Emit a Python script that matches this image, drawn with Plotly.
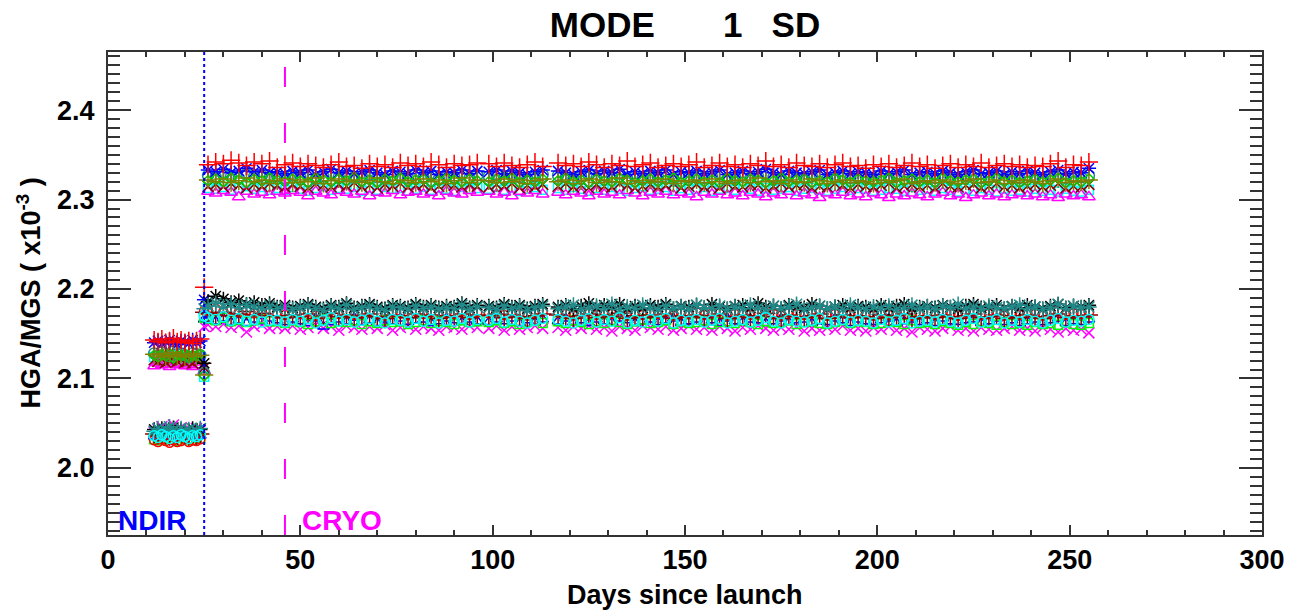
import plotly.graph_objects as go

# ---- observation days -------------------------------------------------------
pre_days = [12, 13, 14, 15, 16, 17, 18, 19, 20, 21, 22, 23, 24, 25]
post_days = [
    26, 28, 30, 32, 34, 36, 38, 40, 42,
    44, 46, 48, 50, 52, 54, 56, 58, 60, 62, 64, 66, 68, 70, 72, 74, 76, 78, 80, 82, 84, 86, 88, 90, 92, 94, 96,
    99, 101, 103, 105, 107, 109, 111, 113,
    117, 119, 121, 123, 125, 127, 129, 131, 133, 135, 137, 139, 141, 143, 145, 147, 149, 151, 153, 155,
    157, 159, 161, 163, 165, 167, 169, 171, 173, 175, 177, 179, 181, 183, 185, 187, 189, 191, 193, 195,
    197, 199, 201, 203, 205, 207, 209, 211, 213, 215, 217, 219, 221, 223, 225, 227, 229, 231, 233, 235,
    237, 239, 241, 243, 245, 247, 249, 251, 253, 255,
]

# ---- upper detector group (HGA/MGS, x1e-3) ----------------------------------
up_red_pre = [2.143, 2.141, 2.144, 2.140, 2.142, 2.145, 2.141, 2.143, 2.140, 2.142, 2.139, 2.142, 2.144, 2.202]
up_red = [
    2.339, 2.342, 2.340, 2.344, 2.341, 2.338, 2.342, 2.340, 2.343,
    2.336, 2.339, 2.341, 2.337, 2.340, 2.338, 2.336, 2.339, 2.342, 2.337, 2.338, 2.335, 2.340, 2.337, 2.339, 2.336, 2.341, 2.338, 2.340, 2.337, 2.342, 2.339, 2.336, 2.340, 2.338, 2.339, 2.341,
    2.340, 2.337, 2.341, 2.338, 2.336, 2.339, 2.342, 2.337,
    2.341, 2.338, 2.340, 2.337, 2.342, 2.339, 2.336, 2.340, 2.338, 2.343, 2.337, 2.339, 2.341, 2.336, 2.338, 2.340, 2.337, 2.339, 2.342, 2.336,
    2.338, 2.341, 2.337, 2.339, 2.336, 2.340, 2.338, 2.343, 2.337, 2.339, 2.336, 2.341, 2.338, 2.337, 2.340, 2.336, 2.339, 2.341, 2.337, 2.338,
    2.335, 2.339, 2.337, 2.340, 2.336, 2.338, 2.341, 2.337, 2.339, 2.335, 2.338, 2.340, 2.336, 2.339, 2.337, 2.341, 2.336, 2.338, 2.340, 2.337,
    2.339, 2.336, 2.338, 2.337, 2.340, 2.343, 2.336, 2.339, 2.338, 2.342,
]
up_blue_pre = [2.140, 2.142, 2.139, 2.141, 2.143, 2.140, 2.138, 2.142, 2.141, 2.139, 2.143, 2.140, 2.142, 2.188]
up_blue = [
    2.333, 2.331, 2.334, 2.330, 2.332, 2.335, 2.331, 2.333, 2.330,
    2.331, 2.329, 2.332, 2.330, 2.333, 2.328, 2.331, 2.334, 2.330, 2.332, 2.329, 2.331, 2.333, 2.330, 2.328, 2.332, 2.331, 2.329, 2.333, 2.330, 2.332, 2.328, 2.331, 2.330, 2.333, 2.329, 2.332,
    2.331, 2.333, 2.329, 2.332, 2.330, 2.328, 2.331, 2.333,
    2.332, 2.330, 2.328, 2.331, 2.333, 2.329, 2.332, 2.330, 2.334, 2.328, 2.331, 2.329, 2.332, 2.330, 2.333, 2.328, 2.331, 2.330, 2.332, 2.329,
    2.331, 2.333, 2.328, 2.330, 2.332, 2.329, 2.331, 2.334, 2.330, 2.328, 2.332, 2.330, 2.329, 2.331, 2.333, 2.328, 2.330, 2.332, 2.329, 2.331,
    2.330, 2.328, 2.332, 2.329, 2.331, 2.333, 2.328, 2.330, 2.331, 2.329, 2.332, 2.330, 2.328, 2.331, 2.333, 2.329, 2.330, 2.332, 2.328, 2.331,
    2.329, 2.332, 2.330, 2.328, 2.331, 2.333, 2.329, 2.331, 2.330, 2.335,
]
up_teal_pre = [2.128, 2.126, 2.129, 2.127, 2.125, 2.130, 2.127, 2.128, 2.126, 2.124, 2.128, 2.127, 2.126, 2.106]
up_teal = [
    2.327, 2.325, 2.328, 2.326, 2.324, 2.329, 2.326, 2.327, 2.325,
    2.326, 2.324, 2.327, 2.325, 2.328, 2.323, 2.326, 2.329, 2.325, 2.327, 2.324, 2.326, 2.328, 2.325, 2.323, 2.327, 2.326, 2.324, 2.328, 2.325, 2.327, 2.323, 2.326, 2.325, 2.328, 2.324, 2.327,
    2.326, 2.328, 2.324, 2.327, 2.325, 2.323, 2.326, 2.328,
    2.327, 2.325, 2.323, 2.326, 2.328, 2.324, 2.327, 2.325, 2.329, 2.323, 2.326, 2.324, 2.327, 2.325, 2.328, 2.323, 2.326, 2.325, 2.327, 2.324,
    2.326, 2.328, 2.323, 2.325, 2.327, 2.324, 2.326, 2.329, 2.325, 2.323, 2.327, 2.325, 2.324, 2.326, 2.328, 2.323, 2.325, 2.327, 2.324, 2.326,
    2.325, 2.323, 2.327, 2.324, 2.326, 2.328, 2.323, 2.325, 2.326, 2.324, 2.327, 2.325, 2.323, 2.326, 2.328, 2.324, 2.325, 2.327, 2.323, 2.326,
    2.324, 2.327, 2.325, 2.323, 2.326, 2.328, 2.324, 2.326, 2.325, 2.327,
]
up_green_pre = [2.126, 2.124, 2.127, 2.125, 2.128, 2.123, 2.126, 2.125, 2.127, 2.124, 2.126, 2.125, 2.127, 2.103]
up_green = [
    2.321, 2.323, 2.320, 2.324, 2.322, 2.319, 2.323, 2.321, 2.324,
    2.322, 2.320, 2.323, 2.321, 2.319, 2.324, 2.322, 2.320, 2.323, 2.321, 2.325, 2.320, 2.322, 2.319, 2.323, 2.321, 2.324, 2.320, 2.322, 2.323, 2.319, 2.321, 2.324, 2.322, 2.320, 2.323, 2.321,
    2.320, 2.323, 2.321, 2.324, 2.319, 2.322, 2.320, 2.323,
    2.321, 2.324, 2.320, 2.322, 2.319, 2.323, 2.321, 2.320, 2.324, 2.322, 2.319, 2.321, 2.323, 2.320, 2.322, 2.324, 2.319, 2.321, 2.323, 2.320,
    2.322, 2.319, 2.324, 2.321, 2.320, 2.323, 2.322, 2.319, 2.321, 2.324, 2.320, 2.322, 2.323, 2.319, 2.321, 2.320, 2.324, 2.322, 2.319, 2.323,
    2.321, 2.320, 2.322, 2.324, 2.319, 2.321, 2.323, 2.320, 2.322, 2.319, 2.324, 2.321, 2.320, 2.322, 2.323, 2.319, 2.321, 2.324, 2.320, 2.322,
    2.319, 2.321, 2.323, 2.320, 2.322, 2.324, 2.319, 2.321, 2.320, 2.323,
]
up_olive_pre = [2.127, 2.125, 2.128, 2.124, 2.126, 2.129, 2.125, 2.127, 2.124, 2.126, 2.128, 2.125, 2.126, 2.104]
up_olive = [
    2.322, 2.320, 2.323, 2.319, 2.321, 2.324, 2.320, 2.322, 2.318,
    2.321, 2.323, 2.319, 2.322, 2.320, 2.324, 2.318, 2.321, 2.323, 2.320, 2.322, 2.319, 2.321, 2.324, 2.320, 2.318, 2.322, 2.321, 2.319, 2.323, 2.320, 2.322, 2.318, 2.321, 2.324, 2.319, 2.322,
    2.321, 2.319, 2.323, 2.320, 2.322, 2.318, 2.321, 2.323,
    2.320, 2.322, 2.318, 2.321, 2.323, 2.319, 2.322, 2.320, 2.324, 2.318, 2.321, 2.319, 2.322, 2.320, 2.323, 2.318, 2.321, 2.320, 2.322, 2.319,
    2.323, 2.320, 2.318, 2.321, 2.322, 2.319, 2.324, 2.320, 2.321, 2.318, 2.322, 2.320, 2.319, 2.323, 2.321, 2.318, 2.320, 2.322, 2.319, 2.321,
    2.320, 2.318, 2.322, 2.319, 2.321, 2.323, 2.318, 2.320, 2.321, 2.319, 2.322, 2.320, 2.318, 2.321, 2.323, 2.319, 2.320, 2.322, 2.318, 2.321,
    2.319, 2.322, 2.320, 2.318, 2.321, 2.323, 2.319, 2.321, 2.320, 2.322,
]
up_darkred_pre = [2.121, 2.119, 2.122, 2.118, 2.120, 2.123, 2.119, 2.121, 2.118, 2.120, 2.117, 2.121, 2.120, 2.112]
up_darkred = [
    2.315, 2.317, 2.314, 2.318, 2.316, 2.313, 2.317, 2.315, 2.318,
    2.316, 2.314, 2.317, 2.315, 2.313, 2.318, 2.316, 2.314, 2.317, 2.315, 2.319, 2.314, 2.316, 2.313, 2.317, 2.315, 2.318, 2.314, 2.316, 2.317, 2.313, 2.315, 2.318, 2.316, 2.314, 2.317, 2.315,
    2.314, 2.317, 2.315, 2.318, 2.313, 2.316, 2.314, 2.317,
    2.315, 2.318, 2.314, 2.316, 2.313, 2.317, 2.315, 2.314, 2.318, 2.316, 2.313, 2.315, 2.317, 2.314, 2.316, 2.318, 2.313, 2.315, 2.317, 2.314,
    2.316, 2.313, 2.318, 2.315, 2.314, 2.317, 2.316, 2.313, 2.315, 2.318, 2.314, 2.316, 2.317, 2.313, 2.315, 2.314, 2.318, 2.316, 2.313, 2.317,
    2.315, 2.314, 2.316, 2.318, 2.313, 2.315, 2.317, 2.314, 2.316, 2.313, 2.318, 2.315, 2.314, 2.316, 2.317, 2.313, 2.315, 2.318, 2.314, 2.316,
    2.313, 2.315, 2.317, 2.314, 2.316, 2.318, 2.313, 2.315, 2.314, 2.317,
]
up_cyan_pre = [2.124, 2.122, 2.125, 2.121, 2.123, 2.126, 2.122, 2.124, 2.121, 2.123, 2.125, 2.122, 2.124, 2.102]
up_cyan = [
    2.313, 2.312, 2.314, 2.311, 2.313, 2.315, 2.312, 2.314, 2.311,
    2.313, 2.311, 2.314, 2.312, 2.310, 2.313, 2.315, 2.311, 2.313, 2.312, 2.314, 2.310, 2.313, 2.311, 2.314, 2.312, 2.313, 2.310, 2.312, 2.314, 2.311, 2.313, 2.312, 2.310, 2.314, 2.312, 2.313,
    2.312, 2.314, 2.311, 2.313, 2.310, 2.312, 2.314, 2.311,
    2.313, 2.311, 2.314, 2.312, 2.310, 2.313, 2.311, 2.314, 2.312, 2.310, 2.313, 2.315, 2.311, 2.312, 2.314, 2.310, 2.313, 2.311, 2.312, 2.314,
    2.310, 2.312, 2.313, 2.311, 2.314, 2.312, 2.310, 2.313, 2.311, 2.312, 2.314, 2.310, 2.312, 2.313, 2.311, 2.310, 2.312, 2.314, 2.311, 2.313,
    2.312, 2.310, 2.311, 2.313, 2.312, 2.310, 2.314, 2.311, 2.312, 2.310, 2.313, 2.311, 2.309, 2.312, 2.310, 2.313, 2.311, 2.309, 2.312, 2.310,
    2.311, 2.309, 2.312, 2.310, 2.311, 2.309, 2.312, 2.310, 2.309, 2.311,
]
up_magenta_pre = [2.114, 2.117, 2.115, 2.118, 2.113, 2.116, 2.115, 2.117, 2.114, 2.116, 2.113, 2.115, 2.118, 2.108]
up_magenta = [
    2.309, 2.307, 2.310, 2.308, 2.303, 2.309, 2.306, 2.308, 2.305,
    2.309, 2.307, 2.310, 2.308, 2.304, 2.309, 2.307, 2.305, 2.310, 2.308, 2.306, 2.309, 2.304, 2.308, 2.307, 2.310, 2.305, 2.308, 2.309, 2.306, 2.308, 2.304, 2.309, 2.307, 2.306, 2.310, 2.308,
    2.309, 2.306, 2.308, 2.304, 2.309, 2.307, 2.310, 2.306,
    2.308, 2.305, 2.309, 2.307, 2.304, 2.309, 2.306, 2.308, 2.305, 2.310, 2.307, 2.304, 2.308, 2.306, 2.309, 2.305, 2.308, 2.306, 2.303, 2.308,
    2.306, 2.309, 2.305, 2.307, 2.304, 2.308, 2.306, 2.303, 2.307, 2.305, 2.309, 2.304, 2.307, 2.305, 2.302, 2.307, 2.305, 2.308, 2.304, 2.306,
    2.303, 2.307, 2.305, 2.302, 2.306, 2.304, 2.307, 2.305, 2.303, 2.306, 2.308, 2.304, 2.306, 2.302, 2.305, 2.307, 2.304, 2.306, 2.303, 2.305,
    2.307, 2.304, 2.306, 2.303, 2.305, 2.302, 2.306, 2.304, 2.305, 2.303,
]

# ---- lower detector group ---------------------------------------------------
lo_black_pre = [2.043, 2.041, 2.044, 2.040, 2.042, 2.045, 2.041, 2.043, 2.040, 2.042, 2.044, 2.041, 2.043, 2.117]
lo_black = [
    2.186, 2.192, 2.189, 2.185, 2.187, 2.183, 2.185, 2.182, 2.184,
    2.180, 2.182, 2.179, 2.181, 2.183, 2.180, 2.178, 2.182, 2.180, 2.184, 2.179, 2.181, 2.183, 2.180, 2.178, 2.182, 2.181, 2.179, 2.183, 2.180, 2.182, 2.179, 2.181, 2.180, 2.184, 2.179, 2.182,
    2.181, 2.179, 2.183, 2.180, 2.182, 2.178, 2.181, 2.183,
    2.180, 2.182, 2.178, 2.181, 2.184, 2.179, 2.182, 2.180, 2.183, 2.178, 2.181, 2.179, 2.182, 2.180, 2.183, 2.178, 2.181, 2.180, 2.182, 2.179,
    2.183, 2.180, 2.178, 2.181, 2.182, 2.179, 2.184, 2.180, 2.181, 2.178, 2.182, 2.180, 2.179, 2.183, 2.181, 2.178, 2.180, 2.182, 2.179, 2.181,
    2.180, 2.178, 2.182, 2.179, 2.181, 2.183, 2.178, 2.180, 2.181, 2.179, 2.182, 2.180, 2.178, 2.181, 2.183, 2.179, 2.180, 2.182, 2.178, 2.181,
    2.179, 2.182, 2.180, 2.178, 2.181, 2.183, 2.179, 2.181, 2.180, 2.182,
]
lo_teal_pre = [2.041, 2.044, 2.040, 2.043, 2.046, 2.042, 2.040, 2.044, 2.041, 2.043, 2.039, 2.042, 2.044, 2.178]
lo_teal = [
    2.181, 2.184, 2.180, 2.183, 2.179, 2.182, 2.180, 2.178, 2.181,
    2.178, 2.180, 2.177, 2.179, 2.181, 2.178, 2.176, 2.180, 2.178, 2.182, 2.177, 2.179, 2.181, 2.178, 2.176, 2.180, 2.179, 2.177, 2.181, 2.178, 2.180, 2.177, 2.179, 2.178, 2.182, 2.177, 2.180,
    2.179, 2.177, 2.181, 2.178, 2.180, 2.176, 2.179, 2.181,
    2.178, 2.180, 2.182, 2.177, 2.179, 2.181, 2.178, 2.183, 2.177, 2.180, 2.178, 2.182, 2.179, 2.177, 2.181, 2.178, 2.180, 2.177, 2.182, 2.179,
    2.178, 2.181, 2.177, 2.180, 2.178, 2.182, 2.179, 2.177, 2.181, 2.178, 2.180, 2.183, 2.177, 2.179, 2.181, 2.178, 2.180, 2.177, 2.182, 2.179,
    2.177, 2.180, 2.178, 2.181, 2.177, 2.179, 2.182, 2.178, 2.180, 2.177, 2.181, 2.179, 2.183, 2.178, 2.180, 2.177, 2.181, 2.179, 2.178, 2.180,
    2.182, 2.178, 2.180, 2.177, 2.179, 2.183, 2.178, 2.181, 2.179, 2.180,
]
lo_red_pre = [2.031, 2.029, 2.032, 2.030, 2.028, 2.031, 2.029, 2.030, 2.032, 2.029, 2.031, 2.030, 2.032, 2.176]
lo_red = [
    2.176, 2.178, 2.175, 2.177, 2.174, 2.176, 2.173, 2.175, 2.177,
    2.173, 2.171, 2.174, 2.172, 2.175, 2.170, 2.173, 2.176, 2.172, 2.174, 2.171, 2.173, 2.175, 2.172, 2.170, 2.174, 2.173, 2.171, 2.175, 2.172, 2.174, 2.170, 2.173, 2.172, 2.175, 2.171, 2.174,
    2.173, 2.175, 2.171, 2.174, 2.172, 2.170, 2.173, 2.175,
    2.174, 2.172, 2.170, 2.173, 2.175, 2.171, 2.174, 2.172, 2.176, 2.170, 2.173, 2.171, 2.174, 2.172, 2.175, 2.170, 2.173, 2.172, 2.174, 2.171,
    2.173, 2.175, 2.170, 2.172, 2.174, 2.171, 2.173, 2.176, 2.172, 2.170, 2.174, 2.172, 2.171, 2.173, 2.175, 2.170, 2.172, 2.174, 2.171, 2.173,
    2.172, 2.170, 2.174, 2.171, 2.173, 2.177, 2.170, 2.172, 2.173, 2.171, 2.174, 2.172, 2.170, 2.173, 2.175, 2.171, 2.172, 2.174, 2.170, 2.173,
    2.171, 2.174, 2.172, 2.170, 2.173, 2.175, 2.171, 2.173, 2.172, 2.174,
]
lo_darkred_pre = [2.038, 2.036, 2.039, 2.037, 2.035, 2.038, 2.036, 2.039, 2.037, 2.035, 2.038, 2.036, 2.038, 2.174]
lo_darkred = [
    2.173, 2.171, 2.174, 2.170, 2.172, 2.175, 2.171, 2.173, 2.170,
    2.170, 2.168, 2.171, 2.169, 2.172, 2.167, 2.170, 2.173, 2.169, 2.171, 2.168, 2.170, 2.172, 2.169, 2.167, 2.171, 2.170, 2.168, 2.172, 2.169, 2.171, 2.167, 2.170, 2.169, 2.172, 2.168, 2.171,
    2.170, 2.172, 2.168, 2.171, 2.169, 2.167, 2.170, 2.172,
    2.171, 2.169, 2.167, 2.170, 2.172, 2.168, 2.171, 2.169, 2.173, 2.167, 2.170, 2.168, 2.171, 2.169, 2.172, 2.167, 2.170, 2.169, 2.171, 2.168,
    2.170, 2.172, 2.167, 2.169, 2.171, 2.168, 2.170, 2.173, 2.169, 2.167, 2.171, 2.169, 2.168, 2.170, 2.172, 2.167, 2.169, 2.171, 2.168, 2.170,
    2.169, 2.167, 2.171, 2.168, 2.170, 2.172, 2.167, 2.169, 2.170, 2.168, 2.171, 2.169, 2.167, 2.170, 2.172, 2.168, 2.169, 2.171, 2.167, 2.170,
    2.168, 2.171, 2.169, 2.167, 2.170, 2.172, 2.168, 2.170, 2.169, 2.171,
]
lo_green_pre = [2.032, 2.034, 2.031, 2.033, 2.035, 2.032, 2.030, 2.034, 2.032, 2.033, 2.031, 2.034, 2.033, 2.168]
lo_green = [
    2.167, 2.165, 2.168, 2.164, 2.166, 2.163, 2.165, 2.167, 2.164,
    2.164, 2.162, 2.165, 2.163, 2.161, 2.164, 2.166, 2.162, 2.164, 2.163, 2.165, 2.161, 2.164, 2.162, 2.165, 2.163, 2.164, 2.161, 2.163, 2.165, 2.162, 2.164, 2.163, 2.161, 2.165, 2.163, 2.164,
    2.163, 2.165, 2.162, 2.164, 2.161, 2.163, 2.165, 2.162,
    2.164, 2.162, 2.165, 2.163, 2.161, 2.164, 2.162, 2.165, 2.163, 2.161, 2.164, 2.166, 2.162, 2.163, 2.165, 2.161, 2.164, 2.162, 2.163, 2.165,
    2.161, 2.163, 2.164, 2.162, 2.165, 2.163, 2.161, 2.164, 2.162, 2.163, 2.165, 2.161, 2.163, 2.164, 2.162, 2.161, 2.163, 2.165, 2.162, 2.164,
    2.163, 2.161, 2.162, 2.164, 2.163, 2.161, 2.165, 2.162, 2.163, 2.161, 2.164, 2.162, 2.160, 2.163, 2.161, 2.164, 2.162, 2.160, 2.163, 2.161,
    2.162, 2.160, 2.163, 2.161, 2.162, 2.160, 2.163, 2.161, 2.160, 2.162,
]
lo_blue_pre = [2.035, 2.037, 2.034, 2.036, 2.038, 2.035, 2.033, 2.037, 2.035, 2.036, 2.034, 2.037, 2.036, 2.166]
lo_blue = [
    2.166, 2.164, 2.167, 2.163, 2.165, 2.162, 2.166, 2.164, 2.167,
    2.165, 2.163, 2.166, 2.164, 2.162, 2.167, 2.158, 2.163, 2.166, 2.164, 2.168, 2.163, 2.165, 2.162, 2.166, 2.164, 2.167, 2.163, 2.165, 2.166, 2.162, 2.164, 2.167, 2.165, 2.163, 2.166, 2.164,
    2.163, 2.166, 2.164, 2.167, 2.162, 2.165, 2.163, 2.166,
    2.164, 2.167, 2.163, 2.165, 2.162, 2.166, 2.164, 2.163, 2.167, 2.165, 2.162, 2.164, 2.166, 2.163, 2.165, 2.167, 2.162, 2.164, 2.166, 2.163,
    2.165, 2.162, 2.167, 2.164, 2.163, 2.166, 2.165, 2.162, 2.164, 2.167, 2.163, 2.165, 2.166, 2.162, 2.164, 2.163, 2.167, 2.165, 2.162, 2.166,
    2.164, 2.163, 2.165, 2.167, 2.162, 2.164, 2.166, 2.163, 2.165, 2.162, 2.167, 2.164, 2.163, 2.165, 2.166, 2.162, 2.164, 2.167, 2.163, 2.165,
    2.162, 2.164, 2.166, 2.163, 2.165, 2.167, 2.162, 2.164, 2.163, 2.166,
]
lo_cyan_pre = [2.036, 2.034, 2.037, 2.035, 2.033, 2.036, 2.034, 2.037, 2.035, 2.033, 2.036, 2.035, 2.037, 2.170]
lo_cyan = [
    2.168, 2.166, 2.169, 2.165, 2.167, 2.164, 2.166, 2.163, 2.165,
    2.165, 2.163, 2.166, 2.164, 2.167, 2.162, 2.165, 2.168, 2.164, 2.166, 2.163, 2.165, 2.167, 2.164, 2.162, 2.166, 2.165, 2.163, 2.167, 2.164, 2.166, 2.162, 2.165, 2.164, 2.167, 2.163, 2.166,
    2.165, 2.167, 2.163, 2.166, 2.164, 2.162, 2.165, 2.167,
    2.166, 2.164, 2.162, 2.165, 2.167, 2.163, 2.166, 2.164, 2.168, 2.162, 2.165, 2.163, 2.166, 2.164, 2.167, 2.162, 2.165, 2.164, 2.166, 2.163,
    2.165, 2.167, 2.162, 2.164, 2.166, 2.163, 2.165, 2.168, 2.164, 2.162, 2.166, 2.164, 2.163, 2.165, 2.167, 2.162, 2.164, 2.166, 2.163, 2.165,
    2.164, 2.162, 2.166, 2.163, 2.165, 2.167, 2.162, 2.164, 2.165, 2.163, 2.166, 2.164, 2.162, 2.165, 2.167, 2.163, 2.164, 2.166, 2.162, 2.165,
    2.163, 2.166, 2.164, 2.162, 2.165, 2.167, 2.163, 2.165, 2.164, 2.166,
]
lo_magenta_pre = [2.040, 2.043, 2.046, 2.041, 2.044, 2.048, 2.042, 2.045, 2.040, 2.043, 2.041, 2.044, 2.042, 2.158]
lo_magenta = [
    2.160, 2.158, 2.161, 2.157, 2.159, 2.152, 2.158, 2.160, 2.156,
    2.158, 2.156, 2.159, 2.155, 2.157, 2.160, 2.156, 2.158, 2.154, 2.159, 2.157, 2.155, 2.158, 2.156, 2.160, 2.154, 2.157, 2.159, 2.155, 2.158, 2.156, 2.154, 2.158, 2.157, 2.155, 2.159, 2.157,
    2.156, 2.159, 2.154, 2.158, 2.155, 2.157, 2.159, 2.156,
    2.157, 2.154, 2.158, 2.156, 2.159, 2.155, 2.157, 2.153, 2.158, 2.156, 2.154, 2.159, 2.157, 2.155, 2.158, 2.154, 2.156, 2.159, 2.155, 2.157,
    2.154, 2.158, 2.156, 2.153, 2.157, 2.155, 2.159, 2.156, 2.154, 2.157, 2.155, 2.158, 2.153, 2.156, 2.154, 2.157, 2.155, 2.159, 2.154, 2.156,
    2.153, 2.157, 2.155, 2.158, 2.154, 2.156, 2.152, 2.157, 2.155, 2.153, 2.156, 2.158, 2.154, 2.156, 2.153, 2.157, 2.155, 2.154, 2.156, 2.158,
    2.154, 2.156, 2.153, 2.157, 2.155, 2.152, 2.156, 2.154, 2.155, 2.151,
]

# ---- events marked on the time axis ----------------------------------------
event_days = [25, 46]
event_labels = ["NDIR", "CRYO"]
event_label_days = [2, 50]
event_colors = ["#0000ff", "#ff00ff"]

TEAL = "#218b8b"
OLIVE = "#808000"
DARKRED = "#8b0000"

# (pre values, post values, colour, symbol, size), in drawing order
series = [
    (up_cyan_pre, up_cyan, "#00ffff", "square-open", 9),
    (up_magenta_pre, up_magenta, "#ff00ff", "triangle-up-open", 11),
    (up_darkred_pre, up_darkred, DARKRED, "x-thin-open", 11),
    (up_teal_pre, up_teal, TEAL, "circle-open", 11),
    (up_blue_pre, up_blue, "#0000ff", "asterisk-open", 12),
    (up_green_pre, up_green, "#00cc00", "diamond-open", 8),
    (up_olive_pre, up_olive, OLIVE, "cross-thin-open", 13),
    (up_red_pre, up_red, "#ff0000", "cross-thin-open", 13),
    (lo_magenta_pre, lo_magenta, "#ff00ff", "x-thin-open", 11),
    (lo_blue_pre, lo_blue, "#0000ff", "triangle-up-open", 10),
    (lo_green_pre, lo_green, "#00ff00", "square-open", 9),
    (lo_red_pre, lo_red, "#ff0000", "circle-open", 9),
    (lo_darkred_pre, lo_darkred, DARKRED, "cross-thin-open", 13),
    (lo_black_pre, lo_black, "#000000", "asterisk-open", 12),
    (lo_teal_pre, lo_teal, TEAL, "asterisk-open", 13),
    (lo_cyan_pre, lo_cyan, "#00ffff", "circle-open", 10),
]

fig = go.Figure()
for pre_vals, post_vals, color, symbol, size in series:
    fig.add_trace(go.Scatter(
        x=pre_days + post_days,
        y=pre_vals + post_vals,
        mode="markers",
        marker=dict(symbol=symbol, size=size, color=color,
                    line=dict(color=color, width=1.5)),
        hoverinfo="skip",
    ))

FONT = "Liberation Sans, Arial, Helvetica, sans-serif"
AXIS = "#333333"

for day, col, dash in zip(event_days, event_colors, ["dot", "20px,36px"]):
    fig.add_shape(type="line", xref="x", yref="paper", x0=day, x1=day, y0=0, y1=1,
                  line=dict(color=col, width=2, dash=dash), layer="above")

annotations = []
for label, day, col in zip(event_labels, event_label_days, event_colors):
    annotations.append(dict(text=f"<b>{label}</b>", x=day, y=0.031, xref="x", yref="paper",
                            xanchor="left", yanchor="middle", showarrow=False,
                            font=dict(family=FONT, size=28, color=col)))
annotations.append(dict(text="<b>Days since launch</b>", x=0.5, y=-0.124, xref="paper", yref="paper",
                        xanchor="center", yanchor="middle", showarrow=False,
                        font=dict(family=FONT, size=27, color="black")))
annotations.append(dict(text="<b>HGA/MGS ( x10<sup>-3</sup> )</b>", x=-0.0693, y=0.5,
                        xref="paper", yref="paper", xanchor="center", yanchor="middle",
                        textangle=-90, showarrow=False,
                        font=dict(family=FONT, size=27, color="black")))

fig.update_layout(
    width=1296, height=611,
    margin=dict(l=108, r=34, t=52, b=76),
    plot_bgcolor="white", paper_bgcolor="white",
    showlegend=False,
    font=dict(family=FONT, color="black"),
    title=dict(text="<b>MODE       1   SD</b>", x=0.5, xref="paper", xanchor="center",
               y=1 - 25 / 611, yref="container", yanchor="middle",
               font=dict(family=FONT, size=35, color="black")),
    annotations=annotations,
    xaxis=dict(range=[0, 300], tick0=0, dtick=50, ticks="inside", ticklen=10, tickwidth=2,
               tickcolor=AXIS, showline=True, linecolor=AXIS, linewidth=2, mirror="ticks",
               showgrid=False, zeroline=False, ticklabelstandoff=0,
               tickfont=dict(family=FONT, size=27, color="black", weight="bold"),
               minor=dict(dtick=10, ticks="inside", ticklen=5, tickwidth=1.5,
                          tickcolor=AXIS, showgrid=False)),
    yaxis=dict(range=[1.925, 2.465], tick0=2.0, dtick=0.1, tickformat=".1f", ticks="inside",
               ticklen=23, tickwidth=2, tickcolor=AXIS, showline=True, linecolor=AXIS,
               linewidth=2, mirror="ticks", showgrid=False, zeroline=False,
               ticklabelstandoff=6,
               tickfont=dict(family=FONT, size=27, color="black", weight="bold"),
               minor=dict(dtick=0.01, ticks="inside", ticklen=12, tickwidth=1.5,
                          tickcolor=AXIS, showgrid=False)),
)

fig.write_html("out.html")
